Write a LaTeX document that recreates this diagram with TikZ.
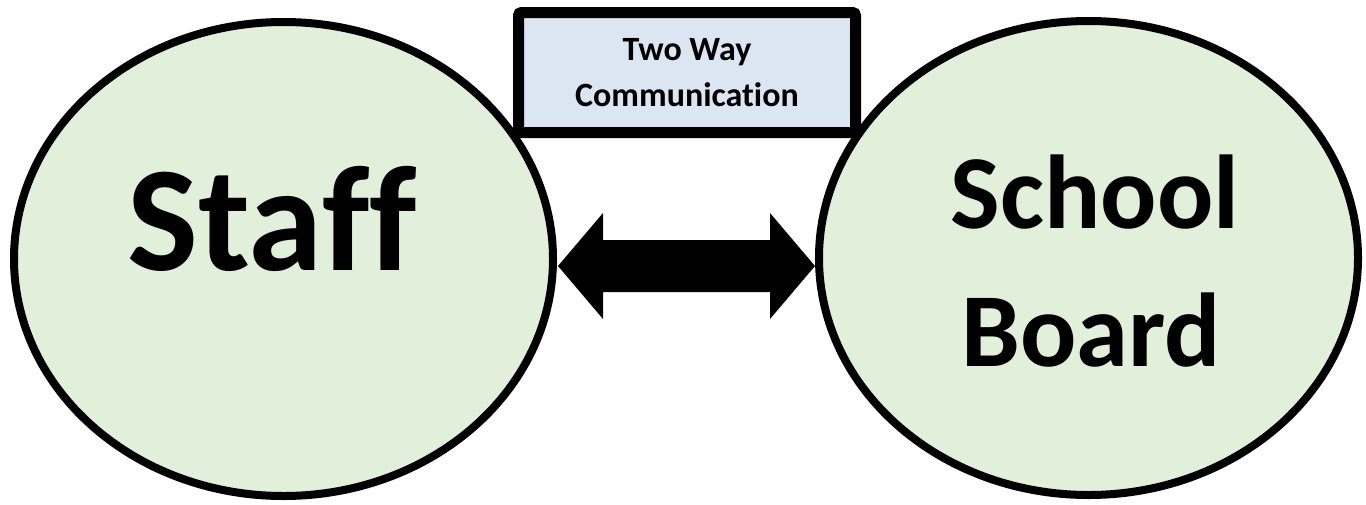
\documentclass[tikz,border=0pt]{standalone}
\usepackage{fontspec}
\setmainfont{Carlito}[Ligatures=CommonOff]
\usetikzlibrary{shapes.geometric,calc}
\definecolor{partyfill}{HTML}{E2EFDA}
\definecolor{notefill}{HTML}{DCE6F2}
\begin{document}
\begin{tikzpicture}[x=1pt,y=-1pt,
  party/.style={ellipse, draw=black, line width=8pt, fill=partyfill,
    minimum width=539pt, minimum height=474pt, inner sep=0pt},
  notebox/.style={rectangle, draw=black, line width=11pt, fill=notefill,
    rounded corners=3pt, minimum width=337pt, minimum height=120pt,
    align=center, inner sep=0pt,
    font=\fontsize{34pt}{46pt}\selectfont\bfseries},
  bigword/.style={anchor=base, inner sep=0pt,
    font=\fontsize{150pt}{150pt}\selectfont\bfseries},
  midword/.style={anchor=base, inner sep=0pt,
    font=\fontsize{105pt}{105pt}\selectfont\bfseries}]
\useasboundingbox (0,0) rectangle (1366,504);

% the two parties
\node[party] (staff) at (283.5,259) {};
\node[party] (board) at (1088.5,258) {};
\node[bigword] (stafftxt) at (272,270) {Staff};
\node[midword] (schooltxt) at (1095,228) {School};
\node[midword] (boardtxt) at (1091,366) {Board};

% the label over the gap
\node[notebox] (talk) at (687,72.5) {Two Way\\Communication};

% double-headed block arrow between the parties
\coordinate (tipL) at ($(staff.east)+(1,7)$);
\coordinate (tipR) at ($(board.west |- tipL)$);
\fill[black] (tipL) -- ($(tipL)+(45,-53)$) -- ($(tipL)+(45,-26)$)
  -- ($(tipR)+(-45,-26)$) -- ($(tipR)+(-45,-53)$) -- (tipR)
  -- ($(tipR)+(-45,53)$) -- ($(tipR)+(-45,26)$)
  -- ($(tipL)+(45,26)$) -- ($(tipL)+(45,53)$) -- cycle;
\end{tikzpicture}
\end{document}
